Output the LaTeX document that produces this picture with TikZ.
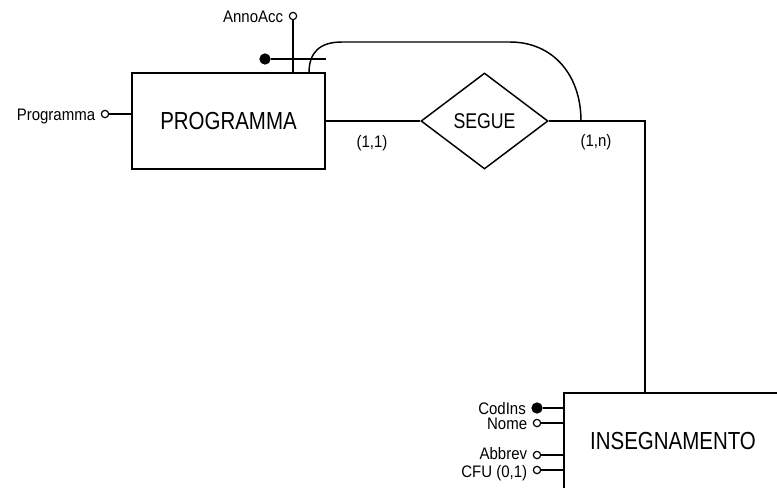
\documentclass[tikz,border=0pt]{standalone}
\usepackage{fontspec}
\setmainfont{Liberation Sans}[FakeStretch=0.9]
\newfontfamily\stretto{Liberation Sans}[FakeStretch=0.83]
\usetikzlibrary{shapes.geometric, positioning, calc}

\tikzset{
  entita/.style={draw, line width=1.9pt, minimum height=72pt, inner sep=0pt,
    font=\stretto\fontsize{18.5}{20}\selectfont},
  relazione/.style={diamond, draw, line width=1.1pt, minimum width=95.25pt,
    minimum height=72pt, inner sep=0pt, font=\stretto\fontsize{16}{18}\selectfont},
  linea/.style={line width=1.1pt},
  attributo/.style={circle, draw, fill=white, line width=0.9pt, minimum size=5.5pt, inner sep=0pt},
  chiave/.style={attributo, fill=black, minimum size=7.5pt},
  etichetta/.style={font=\fontsize{12.5}{13}\selectfont, inner sep=0pt,
    text height=9pt, text depth=0pt},
}

\begin{document}
\begin{tikzpicture}[x=0.75pt, y=-0.75pt]
  \useasboundingbox (0,0) rectangle (777,487);

  % Entita e relazione
  \node[entita, minimum width=144.75pt] (programma) at (228.5,121) {PROGRAMMA};
  \node[relazione] (segue) at (484.5,121) {SEGUE};
  \node[entita, minimum width=163.5pt] (insegnamento) at (673,441) {INSEGNAMENTO};

  % Attributi di PROGRAMMA
  \node[attributo, label={[etichetta, label distance=4pt]left:Programma}] (a-prog) at (105,114) {};
  \node[attributo, label={[etichetta, label distance=4pt]left:AnnoAcc}] (a-anno) at (293,16) {};
  \node[chiave] (k-prog) at (265,59) {};
  \draw[linea] (a-prog) -- (a-prog -| programma.west);
  \draw[linea] (a-anno) -- (a-anno |- programma.north);
  \draw[linea] (k-prog) -- (k-prog -| programma.east);

  % Collegamenti
  \coordinate (arco-da) at (309,73);
  \coordinate (arco-a) at (581,121);
  \coordinate (gomito) at (645,121);
  \draw[linea] (programma.east) -- (segue.west);
  \draw[linea] (segue.east) -- (gomito) -- (gomito |- insegnamento.north);
  \draw[linea] (arco-da) .. controls (309,52) and (320,42) .. (342,42) -- (510,42)
    .. controls (553,42) and (581,75) .. (arco-a);
  \node[etichetta] (card-prog) at (372,141) {(1,1)};
  \node[etichetta] (card-ins) at (596,140) {(1,n)};

  % Attributi di INSEGNAMENTO
  \node[chiave, label={[etichetta, label distance=4pt]left:CodIns}] (a-cod) at (537,408) {};
  \node[attributo, label={[etichetta, label distance=4pt]left:Nome}] (a-nome) at (537,423) {};
  \node[attributo, label={[etichetta, label distance=4pt, yshift=1pt]left:Abbrev}] (a-abbr) at (537,455) {};
  \node[attributo, label={[etichetta, label distance=4pt, yshift=-1pt]left:CFU (0,1)}] (a-cfu) at (537,470) {};
  \foreach \a in {a-cod, a-nome, a-abbr, a-cfu}
    \draw[linea] (\a) -- (\a -| insegnamento.west);
\end{tikzpicture}
\end{document}
